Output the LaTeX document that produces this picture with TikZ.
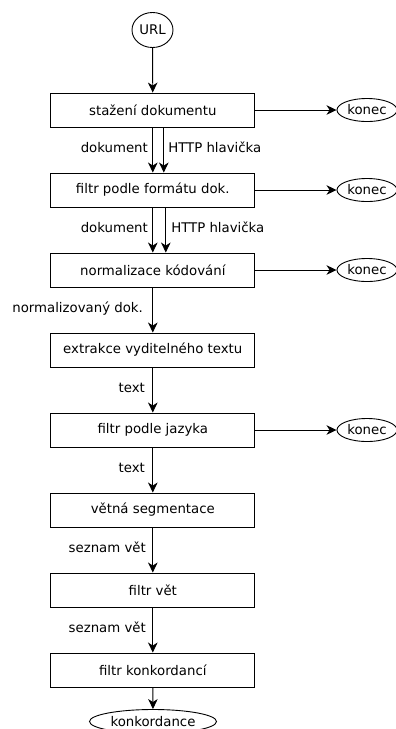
\documentclass[tikz,border=0pt]{standalone}
\usepackage{fontspec}
\setmainfont{DejaVu Sans}
\usetikzlibrary{arrows.meta,shapes.geometric}
\begin{document}
\begin{tikzpicture}[x=1pt,y=-1pt,
  font=\fontsize{13.3}{16}\selectfont,
  stepbox/.style={draw, line width=0.9pt, minimum width=204pt, minimum height=34pt, inner sep=0pt},
  endell/.style={draw, ellipse, line width=0.9pt, minimum width=60pt, minimum height=23pt, inner sep=0pt},
  flow/.style={line width=0.9pt, -{Stealth[length=10pt,width=9.5pt,inset=3pt]}},
  lbl/.style={anchor=mid east, inner sep=0pt, xshift=-4.5pt},
  rlbl/.style={anchor=mid west, inner sep=0pt, xshift=4pt}]
\useasboundingbox (0,0) rectangle (396,729);
\node[draw, ellipse, line width=0.9pt, minimum width=41pt, minimum height=35pt, inner sep=0pt] (url) at (152.5,30) {URL};
\node[stepbox] (b1) at (152.8,110) {stažení dokumentu};
\node[stepbox] (b2) at (152.8,190) {filtr podle formátu dok.};
\node[stepbox] (b3) at (152.8,270) {normalizace kódování};
\node[stepbox] (b4) at (152.8,350) {extrakce vyditelného textu};
\node[stepbox] (b5) at (152.8,430) {filtr podle jazyka};
\node[stepbox] (b6) at (152.8,510) {větná segmentace};
\node[stepbox] (b7) at (152.8,590) {filtr vět};
\node[stepbox] (b8) at (152.8,670) {filtr konkordancí};
\node[endell] (k1) at (367,110) {konec};
\node[endell] (k2) at (367,190) {konec};
\node[endell] (k3) at (367,270) {konec};
\node[endell] (k5) at (367,430) {konec};
\node[endell, minimum width=127pt, minimum height=24pt] (kk) at (153,721.5) {konkordance};
\draw[flow] (url) -- (b1);
\draw[flow] (b1) -- node[lbl]{dokument} (b2);
\draw[flow] ([xshift=11pt]b1.south) -- node[rlbl]{HTTP hlavička} ([xshift=11pt]b2.north);
\draw[flow] (b2) -- node[lbl]{dokument} (b3);
\draw[flow] ([xshift=13pt]b2.south) -- node[rlbl, xshift=1pt]{HTTP hlavička} ([xshift=13pt]b3.north);
\draw[flow] (b3) -- node[lbl, xshift=-5pt]{normalizovaný dok.} (b4);
\draw[flow] (b4) -- node[lbl, xshift=-3pt]{text} (b5);
\draw[flow] (b5) -- node[lbl, xshift=-3pt]{text} (b6);
\draw[flow] (b6) -- node[lbl, xshift=-2pt]{seznam vět} (b7);
\draw[flow] (b7) -- node[lbl, xshift=-2pt]{seznam vět} (b8);
\draw[flow] (b8) -- (kk);
\draw[flow] (b1) -- (k1);
\draw[flow] (b2) -- (k2);
\draw[flow] (b3) -- (k3);
\draw[flow] (b5) -- (k5);
\end{tikzpicture}
\end{document}
